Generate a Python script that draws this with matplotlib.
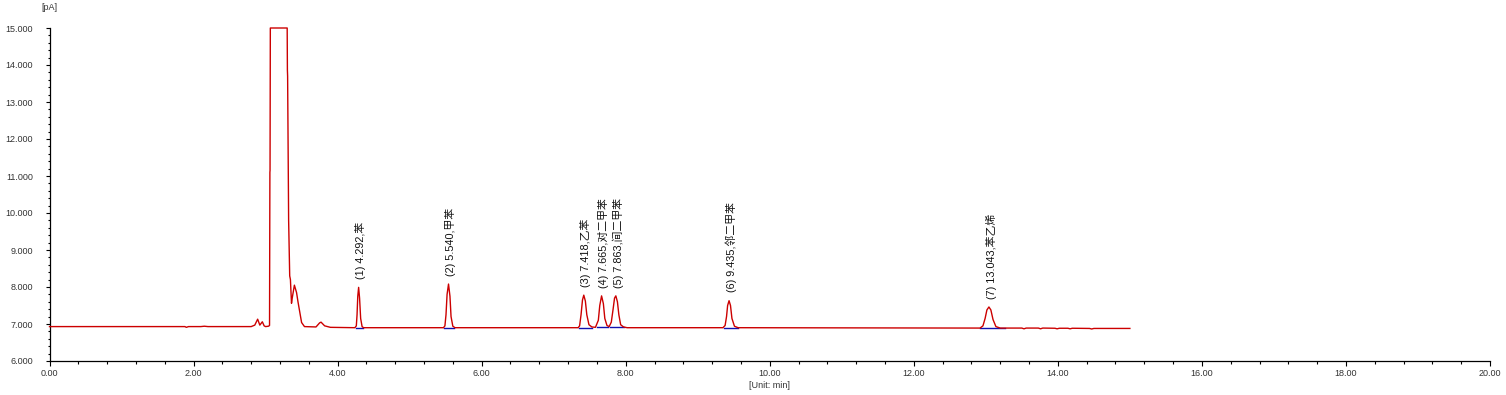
import matplotlib
matplotlib.use('Agg')
import matplotlib.pyplot as plt
from matplotlib.ticker import MultipleLocator, FormatStrFormatter

# -----------------------------------------------------------------------
# Trace (time in min, signal in pA)
# -----------------------------------------------------------------------
pre_t = [0.00, 1.88, 1.90, 1.93, 2.10, 2.15, 2.20, 2.80, 2.85, 2.89, 2.92,
         2.955, 2.98, 3.00, 3.04, 3.055]
pre_s = [6.93, 6.93, 6.91, 6.93, 6.93, 6.94, 6.93, 6.93, 6.97, 7.13, 6.97,
         7.06, 6.95, 6.93, 6.94, 6.96]

# solvent peak (detector clipped at 15 pA) and its tail
solv_t = [3.060, 3.062, 3.066, 3.300, 3.303, 3.306, 3.320, 3.335, 3.345,
          3.360, 3.370, 3.400, 3.430, 3.450, 3.500, 3.540, 3.700, 3.750,
          3.770, 3.820, 3.900]
solv_s = [11.10, 11.15, 15.00, 15.00, 13.86, 13.70, 9.81, 8.30, 8.20,
          7.56, 7.70, 8.05, 7.85, 7.60, 7.04, 6.93, 6.92, 7.03,
          7.05, 6.95, 6.91]

p1_t = [4.24, 4.26, 4.27, 4.28, 4.292, 4.305, 4.32, 4.34, 4.36]
p1_s = [6.90, 6.95, 7.25, 7.75, 7.99, 7.70, 7.15, 6.93, 6.90]

p2_t = [5.47, 5.49, 5.505, 5.52, 5.540, 5.56, 5.575, 5.60, 5.63]
p2_s = [6.90, 6.95, 7.25, 7.80, 8.08, 7.75, 7.20, 6.94, 6.90]

p345_t = [7.34, 7.36, 7.38, 7.40, 7.418, 7.44, 7.46, 7.49, 7.53, 7.58,
          7.62, 7.64, 7.665, 7.69, 7.71, 7.74, 7.77,
          7.80, 7.825, 7.845, 7.863, 7.885, 7.905, 7.93, 7.97, 8.02]
p345_s = [6.90, 6.95, 7.25, 7.65, 7.78, 7.62, 7.25, 6.98, 6.92, 6.91,
          7.10, 7.50, 7.76, 7.55, 7.15, 6.96, 6.93,
          7.05, 7.40, 7.70, 7.76, 7.60, 7.25, 6.98, 6.92, 6.90]

p6_t = [9.35, 9.38, 9.40, 9.415, 9.435, 9.455, 9.475, 9.51, 9.56]
p6_s = [6.90, 6.96, 7.20, 7.50, 7.63, 7.50, 7.15, 6.94, 6.90]

p7_t = [12.92, 12.96, 12.99, 13.015, 13.043, 13.07, 13.10, 13.14, 13.20]
p7_s = [6.89, 6.95, 7.15, 7.38, 7.46, 7.38, 7.12, 6.93, 6.89]

post_t = [13.50, 13.53, 13.56, 13.73, 13.76, 13.79, 13.96, 13.99, 14.02,
          14.14, 14.17, 14.20, 14.44, 14.47, 14.50, 15.00]
post_s = [6.89, 6.87, 6.89, 6.89, 6.87, 6.89, 6.885, 6.87, 6.885,
          6.885, 6.87, 6.885, 6.88, 6.865, 6.88, 6.88]

# integration baselines (start, end) per peak
bl_start = [4.25, 5.48, 7.35, 7.60, 7.78, 9.36, 12.92]
bl_end = [4.35, 5.62, 7.53, 7.76, 7.97, 9.56, 13.27]
bl_level = [6.90, 6.90, 6.90, 6.91, 6.91, 6.90, 6.89]

# peak annotations
peak_rt = [4.292, 5.540, 7.418, 7.665, 7.863, 9.435, 13.043]
peak_h = [7.99, 8.08, 7.78, 7.76, 7.76, 7.63, 7.46]
peak_name = ['苯', '甲苯', '乙苯', '对二甲苯', '间二甲苯', '邻二甲苯', '苯乙烯']

t = pre_t + solv_t + p1_t + p2_t + p345_t + p6_t + p7_t + post_t
s = pre_s + solv_s + p1_s + p2_s + p345_s + p6_s + p7_s + post_s

# -----------------------------------------------------------------------
# Figure
# -----------------------------------------------------------------------
fonts = ['Liberation Sans', 'Noto Sans CJK SC', 'DejaVu Sans']
plt.rcParams['font.family'] = fonts

fig = plt.figure(figsize=(15.06, 3.95), dpi=100)
ax = fig.add_axes([49.5 / 1506, 1 - 361 / 395, (1490 - 49.5) / 1506, (361 - 28) / 395])

ax.plot(t, s, color='#cc0000', linewidth=1.0, clip_on=False, zorder=3)
for a, b, lv in zip(bl_start, bl_end, bl_level):
    ax.plot([a, b], [lv, lv], color='#1010b0', linewidth=1.0, zorder=2)

for i, (rt, h, nm) in enumerate(zip(peak_rt, peak_h, peak_name)):
    ax.annotate(f'({i + 1}) {rt:.3f},{nm}', xy=(rt, h), xytext=(1.5, 6),
                textcoords='offset points', rotation=90, ha='center',
                va='bottom', fontsize=7.8, color='#111111', family=fonts)

ax.set_xlim(0, 20)
ax.set_ylim(6, 15)
ax.xaxis.set_major_locator(MultipleLocator(2))
ax.xaxis.set_minor_locator(MultipleLocator(0.4))
ax.yaxis.set_major_locator(MultipleLocator(1))
ax.yaxis.set_minor_locator(MultipleLocator(0.2))
ax.xaxis.set_major_formatter(FormatStrFormatter('%.2f'))
ax.yaxis.set_major_formatter(FormatStrFormatter('%.3f'))

for side in ('top', 'right'):
    ax.spines[side].set_visible(False)
for side in ('left', 'bottom'):
    ax.spines[side].set_linewidth(0.9)
    ax.spines[side].set_color('black')

ax.tick_params(axis='x', which='major', length=3.6, width=0.8, pad=2,
               labelsize=6.5, labelcolor='#333333')
ax.tick_params(axis='x', which='minor', length=2.4, width=0.8)
ax.tick_params(axis='y', which='major', length=3.0, width=0.8, pad=9,
               labelsize=6.5, labelcolor='#333333')
ax.tick_params(axis='y', which='minor', length=1.8, width=0.8)

ax.set_xlabel('[Unit: min]', fontsize=6.5, color='#333333', labelpad=2)
fig.text(49.5 / 1506, 1 - 8 / 395, '[pA]', ha='center', va='center',
         fontsize=6.5, color='#333333')

fig.savefig('out.png', dpi=100, facecolor='white')
